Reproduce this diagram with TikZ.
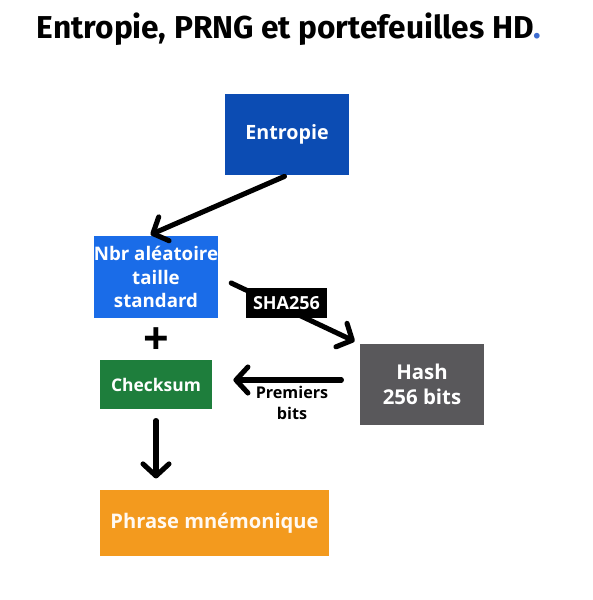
\documentclass[tikz,border=0pt]{standalone}
\usepackage{fontspec}
\setmainfont{Open Sans}
\newfontfamily\titlefont{Fira Sans}
\usetikzlibrary{arrows.meta}
\definecolor{entblue}{HTML}{0C4CB3}
\definecolor{nbrblue}{HTML}{1A6CE8}
\definecolor{chkgreen}{HTML}{1E7E3C}
\definecolor{hashgrey}{HTML}{59585B}
\definecolor{phrorange}{HTML}{F39A1E}
\definecolor{dotblue}{HTML}{3D6CD0}

\begin{document}
\begin{tikzpicture}[x=0.025cm,y=-0.025cm,
    box/.style={draw=none,inner sep=0pt,text=white,align=center,
      font=\bfseries\fontsize{14}{17}\selectfont},
    arr/.style={line width=3.6pt,line cap=round,-{Straight Barb[length=3mm,width=6.5mm,round]}}]
    \useasboundingbox (0,0) rectangle (593,600);
    \node[anchor=west,font=\titlefont\bfseries\fontsize{22.5}{26}\selectfont] (title) at (32,29) {Entropie, PRNG et portefeuilles HD\textcolor{dotblue}{.}};
    \node[box,fill=entblue,minimum width=3.1cm,minimum height=2.025cm] (entropie) at (287,134.5) {Entropie};
    \node[box,fill=nbrblue,minimum width=3.1cm,minimum height=2.05cm,font=\bfseries\fontsize{13.3}{17}\selectfont] (nbr) at (156,277) {Nbr aléatoire\\taille\\standard};
    \node[box,fill=chkgreen,minimum width=2.8cm,minimum height=1.225cm,font=\bfseries\fontsize{12.4}{14}\selectfont] (checksum) at (156,384.5) {Checksum};
    \node[box,fill=hashgrey,minimum width=3.1cm,minimum height=2.025cm,font=\bfseries\fontsize{14.5}{18}\selectfont] (hash) at (422,384.5) {Hash\\256 bits};
    \node[box,fill=phrorange,minimum width=5.725cm,minimum height=1.65cm,text=white!95!orange,font=\bfseries\fontsize{14.3}{17}\selectfont] (phrase) at (214.5,523) {Phrase mnémonique};
    \node[font=\bfseries\fontsize{32}{32}\selectfont,inner sep=0pt] (plus) at (156,341) {+};
    % connecteurs
    \draw[arr,shorten <=2pt,shorten >=2pt] (entropie.south) -- ([xshift=-8*0.025cm]nbr.north);
    \draw[arr,shorten <=10pt,shorten >=4pt] (nbr.east) -- (hash.north west);
    \node[box,fill=black,minimum width=2.025cm,minimum height=0.75cm,font=\bfseries\fontsize{12.8}{14}\selectfont] (sha) at (286.5,303) {SHA256};
    \draw[arr,shorten <=13pt,shorten >=15pt] ([yshift=4.5*0.025cm]hash.west) -- ([yshift=4.5*0.025cm]checksum.east);
    \node[align=center,inner sep=0pt,font=\bfseries\fontsize{11.5}{15}\selectfont] (premiers) at (292,403) {Premiers\\bits};
    \draw[arr,shorten <=8pt,shorten >=8pt] (checksum.south) -- (checksum.south |- phrase.north);
  \end{tikzpicture}
\end{document}
